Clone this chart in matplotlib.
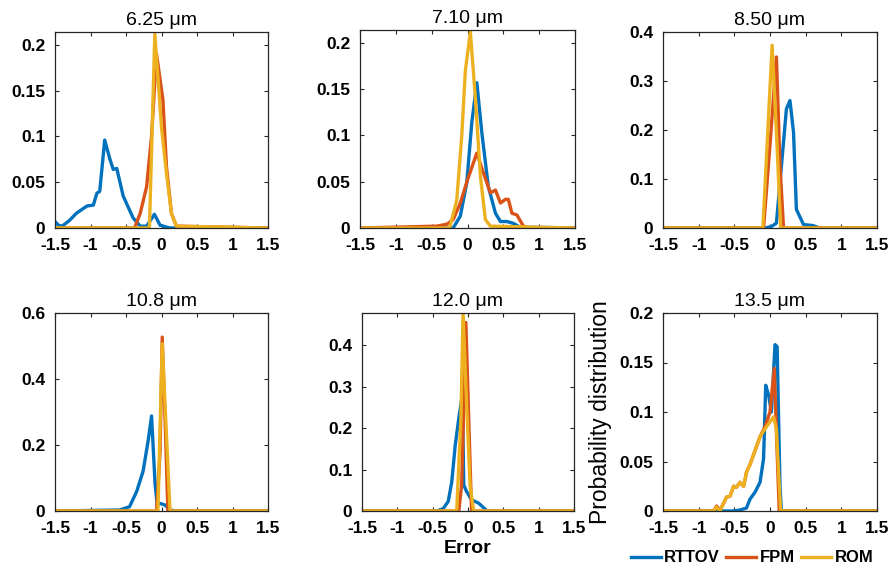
import numpy as np
import matplotlib
matplotlib.use("Agg")
import matplotlib.pyplot as plt
from matplotlib.ticker import FuncFormatter

plt.rcParams['font.family'] = ['Liberation Sans', 'DejaVu Sans']

titles = ["6.25 \u03bcm", "7.10 \u03bcm", "8.50 \u03bcm", "10.8 \u03bcm", "12.0 \u03bcm", "13.5 \u03bcm"]
series_names = ["RTTOV", "FPM", "ROM"]
colors = ["#0072BD", "#D95319", "#EDB120"]

# ---- 6.25 um ----
p1_rttov_x = [-1.5, -1.45, -1.4, -1.3, -1.2, -1.05, -0.96, -0.91, -0.87, -0.8, -0.73, -0.68, -0.63, -0.54, -0.4, -0.3, -0.21, -0.1, -0.02, 0.12, 1.5]
p1_rttov_y = [0.007, 0.003, 0.002, 0.008, 0.016, 0.024, 0.025, 0.038, 0.040, 0.096, 0.076, 0.064, 0.065, 0.035, 0.011, 0.002, 0.002, 0.015, 0.003, 0.0, 0.0]
p1_fpm_x = [-1.5, -0.38, -0.3, -0.21, -0.14, -0.07, 0.02, 0.07, 0.14, 0.21, 1.5]
p1_fpm_y = [0.0, 0.0, 0.016, 0.045, 0.10, 0.19, 0.14, 0.067, 0.016, 0.002, 0.0]
p1_rom_x = [-1.5, -0.17, -0.094, 0.0, 0.07, 0.14, 0.21, 1.5]
p1_rom_y = [0.0, 0.0, 0.212, 0.11, 0.06, 0.016, 0.002, 0.0]

# ---- 7.10 um ----
p2_rttov_x = [-1.5, -0.2, -0.1, -0.01, 0.06, 0.13, 0.2, 0.29, 0.39, 0.46, 0.55, 0.64, 0.73, 1.5]
p2_rttov_y = [0.0, 0.0, 0.013, 0.049, 0.114, 0.157, 0.103, 0.045, 0.016, 0.007, 0.007, 0.005, 0.001, 0.0]
p2_fpm_x = [-1.5, -0.43, -0.29, -0.2, -0.1, 0.0, 0.13, 0.22, 0.32, 0.39, 0.46, 0.53, 0.57, 0.62, 0.69, 0.78, 0.87, 1.5]
p2_fpm_y = [0.0, 0.002, 0.004, 0.009, 0.027, 0.052, 0.081, 0.060, 0.038, 0.041, 0.027, 0.031, 0.031, 0.016, 0.014, 0.002, 0.0, 0.0]
p2_rom_x = [-1.5, -0.25, -0.15, -0.08, -0.03, 0.04, 0.11, 0.18, 0.25, 0.32, 1.5]
p2_rom_y = [0.0, 0.0, 0.03, 0.10, 0.17, 0.212, 0.14, 0.056, 0.009, 0.002, 0.0]

# ---- 8.50 um ----
p3_rttov_x = [-1.5, -0.07, 0.02, 0.09, 0.23, 0.28, 0.33, 0.37, 0.47, 0.6, 0.7, 1.5]
p3_rttov_y = [0.0, 0.0, 0.003, 0.01, 0.243, 0.26, 0.195, 0.038, 0.007, 0.005, 0.0, 0.0]
p3_fpm_x = [-1.5, -0.09, 0.0, 0.09, 0.14, 0.19, 1.5]
p3_fpm_y = [0.0, 0.0, 0.17, 0.349, 0.127, 0.0, 0.0]
p3_rom_x = [-1.5, -0.1, -0.03, 0.03, 0.09, 0.15, 1.5]
p3_rom_y = [0.0, 0.0, 0.2, 0.373, 0.195, 0.0, 0.0]

# ---- 10.8 um ----
p4_rttov_x = [-1.5, -0.59, -0.45, -0.35, -0.26, -0.19, -0.14, -0.09, -0.06, -0.02, 0.05, 0.12, 0.21, 1.5]
p4_rttov_y = [0.0, 0.003, 0.013, 0.059, 0.12, 0.21, 0.288, 0.08, 0.018, 0.023, 0.018, 0.003, 0.0, 0.0]
p4_fpm_x = [-1.5, -0.07, -0.02, 0.01, 0.05, 0.09, 1.5]
p4_fpm_y = [0.0, 0.0, 0.18, 0.527, 0.28, 0.0, 0.0]
p4_rom_x = [-1.5, -0.05, 0.01, 0.07, 0.12, 1.5]
p4_rom_y = [0.0, 0.0, 0.507, 0.23, 0.0, 0.0]

# ---- 12.0 um ----
p5_rttov_x = [-1.5, -0.44, -0.35, -0.28, -0.23, -0.18, -0.13, -0.08, -0.06, -0.02, 0.05, 0.15, 0.22, 0.27, 1.5]
p5_rttov_y = [0.0, 0.0, 0.006, 0.023, 0.07, 0.16, 0.224, 0.28, 0.063, 0.047, 0.027, 0.019, 0.008, 0.0, 0.0]
p5_fpm_x = [-1.5, -0.13, -0.09, -0.03, 0.01, 0.05, 1.5]
p5_fpm_y = [0.0, 0.0, 0.063, 0.455, 0.224, 0.0, 0.0]
p5_rom_x = [-1.5, -0.16, -0.1, -0.07, -0.03, 0.03, 0.08, 1.5]
p5_rom_y = [0.0, 0.0, 0.224, 0.478, 0.30, 0.06, 0.0, 0.0]

# ---- 13.5 um ----
p6_rttov_x = [-1.5, -0.51, -0.42, -0.33, -0.28, -0.21, -0.14, -0.09, -0.06, -0.02, 0.02, 0.07, 0.1, 0.14, 0.16, 1.5]
p6_rttov_y = [0.0, 0.0, 0.001, 0.003, 0.012, 0.019, 0.029, 0.053, 0.127, 0.117, 0.10, 0.168, 0.166, 0.025, 0.0, 0.0]
p6_fpm_x = [-1.5, -0.79, -0.75, -0.7, -0.65, -0.61, -0.56, -0.51, -0.47, -0.42, -0.37, -0.33, -0.28, -0.21, -0.14, -0.07, 0.0, 0.06, 0.1, 0.13, 1.5]
p6_fpm_y = [0.0, 0.0, 0.005, 0.001, 0.008, 0.014, 0.015, 0.025, 0.024, 0.029, 0.025, 0.039, 0.047, 0.061, 0.075, 0.085, 0.10, 0.144, 0.059, 0.0, 0.0]
p6_rom_x = [-1.5, -0.79, -0.75, -0.7, -0.65, -0.61, -0.56, -0.51, -0.47, -0.42, -0.37, -0.33, -0.28, -0.21, -0.14, -0.07, 0.0, 0.05, 0.09, 0.13, 0.15, 1.5]
p6_rom_y = [0.0, 0.0, 0.004, 0.0, 0.008, 0.014, 0.015, 0.025, 0.024, 0.029, 0.025, 0.039, 0.047, 0.061, 0.075, 0.083, 0.09, 0.095, 0.083, 0.025, 0.0, 0.0]

panels = [
    [(p1_rttov_x, p1_rttov_y), (p1_fpm_x, p1_fpm_y), (p1_rom_x, p1_rom_y)],
    [(p2_rttov_x, p2_rttov_y), (p2_fpm_x, p2_fpm_y), (p2_rom_x, p2_rom_y)],
    [(p3_rttov_x, p3_rttov_y), (p3_fpm_x, p3_fpm_y), (p3_rom_x, p3_rom_y)],
    [(p4_rttov_x, p4_rttov_y), (p4_fpm_x, p4_fpm_y), (p4_rom_x, p4_rom_y)],
    [(p5_rttov_x, p5_rttov_y), (p5_fpm_x, p5_fpm_y), (p5_rom_x, p5_rom_y)],
    [(p6_rttov_x, p6_rttov_y), (p6_fpm_x, p6_fpm_y), (p6_rom_x, p6_rom_y)],
]
ylims = [0.214, 0.214, 0.4, 0.6, 0.478, 0.2]
yticks = [
    [0, 0.05, 0.1, 0.15, 0.2],
    [0, 0.05, 0.1, 0.15, 0.2],
    [0, 0.1, 0.2, 0.3, 0.4],
    [0, 0.2, 0.4, 0.6],
    [0, 0.1, 0.2, 0.3, 0.4],
    [0, 0.05, 0.1, 0.15, 0.2],
]
xticks = [-1.5, -1, -0.5, 0, 0.5, 1, 1.5]

W, H = 893, 570
fig = plt.figure(figsize=(W / 100, H / 100), dpi=100)

# axes boxes in pixels: (left, right, top, bottom)
boxes = [
    (55, 268, 32, 228), (360, 575, 30, 228), (663, 877, 32, 228),
    (55, 268, 313, 511), (362, 574, 313, 511), (663, 877, 313, 511),
]

fmt = FuncFormatter(lambda v, p: ("%g" % v))
axes = []
for i, (l, r, t, b) in enumerate(boxes):
    ax = fig.add_axes([l / W, 1 - b / H, (r - l) / W, (b - t) / H])
    axes.append(ax)
    for (xs, ys), c, name in zip(panels[i], colors, series_names):
        ax.plot(xs, ys, color=c, lw=2.4, label=name, solid_joinstyle='round')
    ax.set_xlim(-1.5, 1.5)
    ax.set_ylim(0, ylims[i])
    ax.set_xticks(xticks)
    ax.set_yticks(yticks[i])
    ax.xaxis.set_major_formatter(fmt)
    ax.yaxis.set_major_formatter(fmt)
    ax.tick_params(direction='in', top=True, right=True, length=3, width=0.8,
                   labelsize=12.5, color='#262626')
    ax.tick_params(axis='x', pad=7)
    ax.tick_params(axis='y', pad=7)
    for lab in ax.get_xticklabels() + ax.get_yticklabels():
        lab.set_fontweight('bold')
    for s in ax.spines.values():
        s.set_color('#262626')
        s.set_linewidth(0.9)
    ax.set_title(titles[i], fontsize=14, pad=5)

axes[4].set_xlabel("Error", fontsize=14, fontweight='bold', labelpad=3)
axes[5].set_ylabel("Probability distribution", fontsize=16.5, labelpad=5)

handles = axes[5].get_lines()
fig.legend(handles, series_names, loc='center', bbox_to_anchor=(752 / W, 1 - 558 / H),
           ncol=3, frameon=False, handlelength=1.8, handletextpad=0.2, columnspacing=0.4,
           prop={'weight': 'bold', 'size': 12})

fig.savefig("out.png", dpi=100, facecolor='white')
